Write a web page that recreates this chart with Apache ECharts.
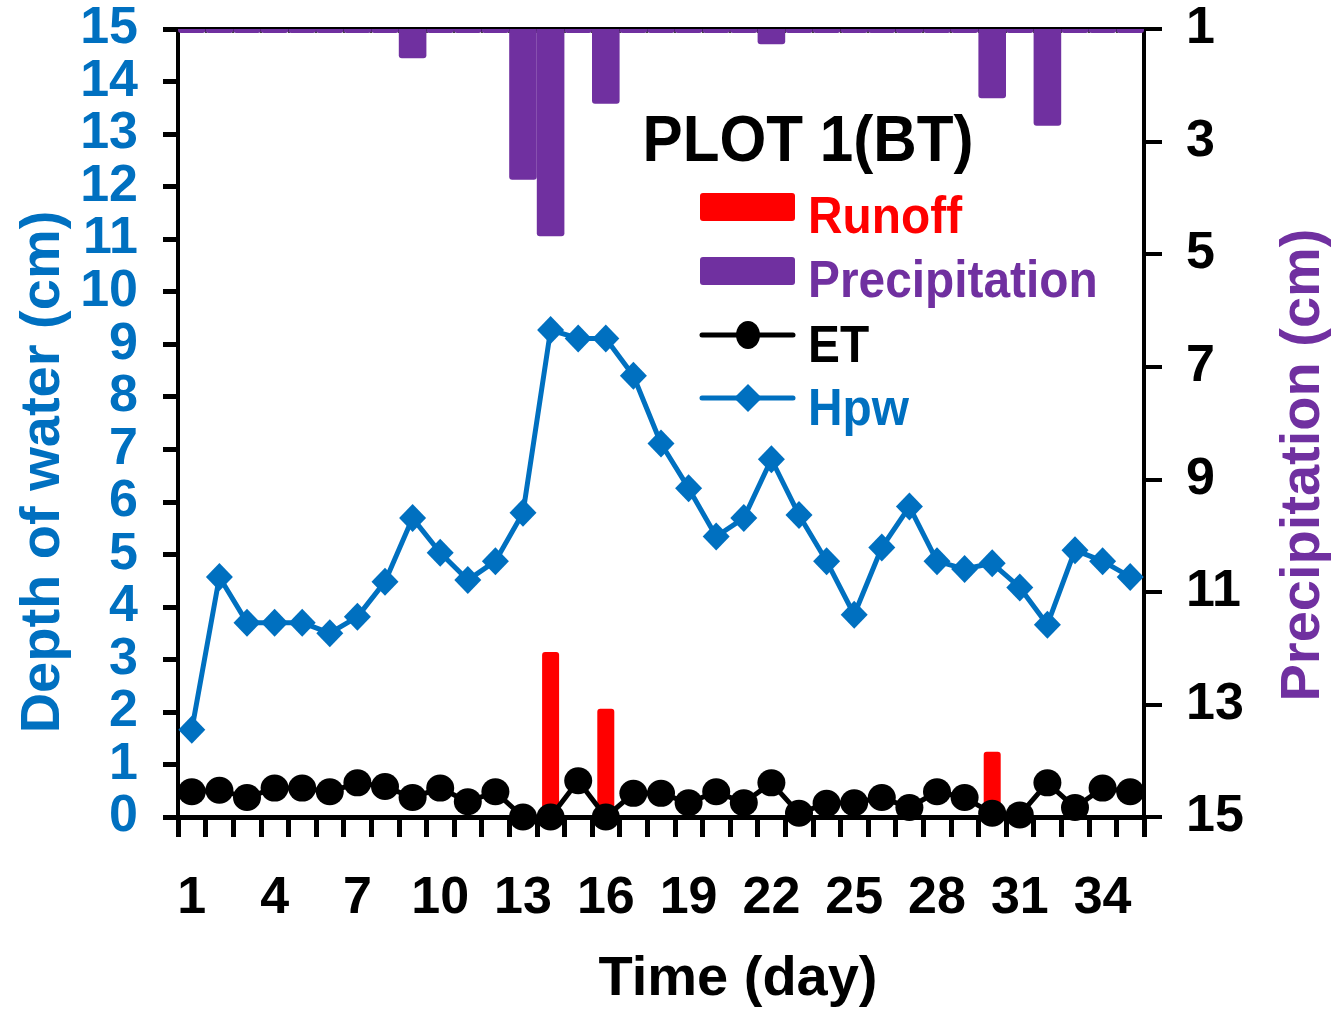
<!DOCTYPE html>
<html>
<head>
<meta charset="utf-8">
<script src="https://cdn.jsdelivr.net/npm/echarts@6/dist/echarts.min.js"></script>
<style>
html,body{margin:0;padding:0;background:#fff;}
#chart{width:1337px;height:1011px;}
</style>
</head>
<body>
<div id="chart"></div>
<script>
// ---- data ----
var days = ['1','2','3','4','5','6','7','8','9','10','11','12','13','14','15','16','17','18','19','20','21','22','23','24','25','26','27','28','29','30','31','32','33','34','35'];
var hpw = [1.66,4.57,3.70,3.70,3.70,3.50,3.81,4.48,5.69,5.03,4.51,4.87,5.79,9.27,9.11,9.11,8.40,7.11,6.26,5.34,5.69,6.81,5.75,4.87,3.85,5.13,5.91,4.87,4.72,4.83,4.37,3.66,5.08,4.87,4.57];
var et = [0.48,0.51,0.37,0.55,0.55,0.48,0.65,0.58,0.37,0.55,0.29,0.48,0.0,0.0,0.69,0.0,0.45,0.45,0.27,0.48,0.27,0.65,0.07,0.26,0.27,0.37,0.18,0.48,0.37,0.07,0.04,0.65,0.18,0.55,0.48];
var runoff = [null,null,null,null,null,null,null,null,null,null,null,null,null,3.14,null,2.06,null,null,null,null,null,null,null,null,null,null,null,null,null,1.24,null,null,null,null,null];
// precipitation depth (cm) measured down from the top of the right axis
var precip = [0.07,0.07,0.07,0.07,0.07,0.07,0.07,0.07,0.52,0.07,0.07,0.07,2.68,3.68,0.07,1.33,0.07,0.07,0.07,0.07,0.07,0.27,0.07,0.07,0.07,0.07,0.07,0.07,0.07,1.23,0.07,1.72,0.07,0.07,0.07];
var leftTicks = {min:0, max:15, interval:1};
var rightTicks = {min:0, max:14, interval:2, labelOffset:1};

var FONT = '"Liberation Sans", Arial, sans-serif';
var BLUE = '#0070C0', PURPLE = '#7030A0', RED = '#FF0000';

var chart = echarts.init(document.getElementById('chart'));
var gl = 178, gt = 29, gr = 1337-1144, gb = 1011-817;

var option = {
  animation: false,
  backgroundColor: '#fff',
  grid: {left: gl, top: gt, right: gr, bottom: gb, containLabel: false},
  xAxis: [
    {
      type: 'category', data: days, position: 'bottom', boundaryGap: true,
      axisLine: {show: true, lineStyle: {color: '#000', width: 5}},
      axisTick: {show: true, interval: 0, length: 20, inside: false, lineStyle: {color: '#000', width: 5}},
      axisLabel: {interval: 2, margin: 56, color: '#000', fontFamily: FONT, fontWeight: 'bold', fontSize: 52},
      splitLine: {show: false}
    },
    {
      type: 'category', data: days, position: 'top', boundaryGap: true,
      axisLine: {show: true, lineStyle: {color: '#000', width: 4}},
      axisTick: {show: true, interval: 0, length: 4, inside: true, lineStyle: {color: '#000', width: 1.5}},
      axisLabel: {show: false},
      splitLine: {show: false}
    }
  ],
  yAxis: [
    {
      type: 'value', position: 'left', min: leftTicks.min, max: leftTicks.max, interval: leftTicks.interval,
      axisLine: {show: true, lineStyle: {color: '#000', width: 4}},
      axisTick: {show: true, length: 15, inside: false, lineStyle: {color: '#000', width: 5}},
      axisLabel: {margin: 40, color: BLUE, fontFamily: FONT, fontWeight: 'bold', fontSize: 52},
      splitLine: {show: false}
    },
    {
      type: 'value', position: 'right', inverse: true, min: rightTicks.min, max: rightTicks.max, interval: rightTicks.interval,
      axisLine: {show: true, lineStyle: {color: '#000', width: 4}},
      axisTick: {show: true, length: 18, inside: false, lineStyle: {color: '#000', width: 4}},
      axisLabel: {margin: 42, color: '#000', fontFamily: FONT, fontWeight: 'bold', fontSize: 52,
        formatter: function (v) { return String(v + rightTicks.labelOffset); }},
      splitLine: {show: false}
    }
  ],
  series: [
    {
      name: 'Precipitation', type: 'bar', xAxisIndex: 1, yAxisIndex: 1, data: precip,
      barWidth: '100%', barCategoryGap: '0%',
      itemStyle: {color: PURPLE, borderRadius: [0,0,3,3]}, z: 1
    },
    {
      name: 'Runoff', type: 'bar', xAxisIndex: 0, yAxisIndex: 0, data: runoff,
      barWidth: 17, itemStyle: {color: RED, borderRadius: [3,3,0,0]}, z: 2
    },
    {
      name: 'ET', type: 'line', xAxisIndex: 0, yAxisIndex: 0, data: et,
      symbol: 'circle', symbolSize: [28,27], showAllSymbol: true,
      lineStyle: {color: '#000', width: 5}, itemStyle: {color: '#000'}, z: 3, clip: false
    },
    {
      name: 'Hpw', type: 'line', xAxisIndex: 0, yAxisIndex: 0, data: hpw,
      symbol: 'diamond', symbolSize: [27,28], showAllSymbol: true,
      lineStyle: {color: BLUE, width: 5}, itemStyle: {color: BLUE}, z: 4, clip: false
    }
  ],
  graphic: [
    {type: 'text', x: 44, y: 472, rotation: Math.PI/2, style: {text: 'Depth of water (cm)', fill: BLUE, font: 'bold 56px ' + FONT, textAlign: 'center', textVerticalAlign: 'middle'}},
    {type: 'text', x: 1304, y: 465, rotation: Math.PI/2, style: {text: 'Precipitation (cm)', fill: PURPLE, font: 'bold 56px ' + FONT, textAlign: 'center', textVerticalAlign: 'middle'}},
    {type: 'text', x: 738, y: 980, style: {text: 'Time (day)', fill: '#000', font: 'bold 56px ' + FONT, textAlign: 'center', textVerticalAlign: 'middle'}},
    {type: 'text', x: 808, y: 143, scaleX: 0.94, style: {text: 'PLOT 1(BT)', fill: '#000', font: 'bold 64px ' + FONT, textAlign: 'center', textVerticalAlign: 'middle'}, z: 10},
    {type: 'rect', shape: {x: 700, y: 193, width: 95, height: 28, r: 3}, style: {fill: RED}, z: 10},
    {type: 'text', x: 808, y: 219, scaleX: 0.92, style: {text: 'Runoff', fill: RED, font: 'bold 52px ' + FONT, textAlign: 'left', textVerticalAlign: 'middle'}, z: 10},
    {type: 'rect', shape: {x: 700, y: 257, width: 95, height: 28, r: 3}, style: {fill: PURPLE}, z: 10},
    {type: 'text', x: 808, y: 283, scaleX: 0.92, style: {text: 'Precipitation', fill: PURPLE, font: 'bold 52px ' + FONT, textAlign: 'left', textVerticalAlign: 'middle'}, z: 10},
    {type: 'line', shape: {x1: 702, y1: 335, x2: 793, y2: 335}, style: {stroke: '#000', lineWidth: 5, lineCap: 'round'}, z: 10},
    {type: 'ellipse', shape: {cx: 748, cy: 335, rx: 12, ry: 14}, style: {fill: '#000'}, z: 11},
    {type: 'text', x: 808, y: 348, scaleX: 0.92, style: {text: 'ET', fill: '#000', font: 'bold 52px ' + FONT, textAlign: 'left', textVerticalAlign: 'middle'}, z: 10},
    {type: 'line', shape: {x1: 702, y1: 398, x2: 793, y2: 398}, style: {stroke: BLUE, lineWidth: 5, lineCap: 'round'}, z: 10},
    {type: 'polygon', shape: {points: [[748,384],[762,398],[748,412],[734,398]]}, style: {fill: BLUE}, z: 11},
    {type: 'text', x: 808, y: 411, scaleX: 0.92, style: {text: 'Hpw', fill: BLUE, font: 'bold 52px ' + FONT, textAlign: 'left', textVerticalAlign: 'middle'}, z: 10}
  ]
};
chart.setOption(option);
</script>
</body>
</html>
